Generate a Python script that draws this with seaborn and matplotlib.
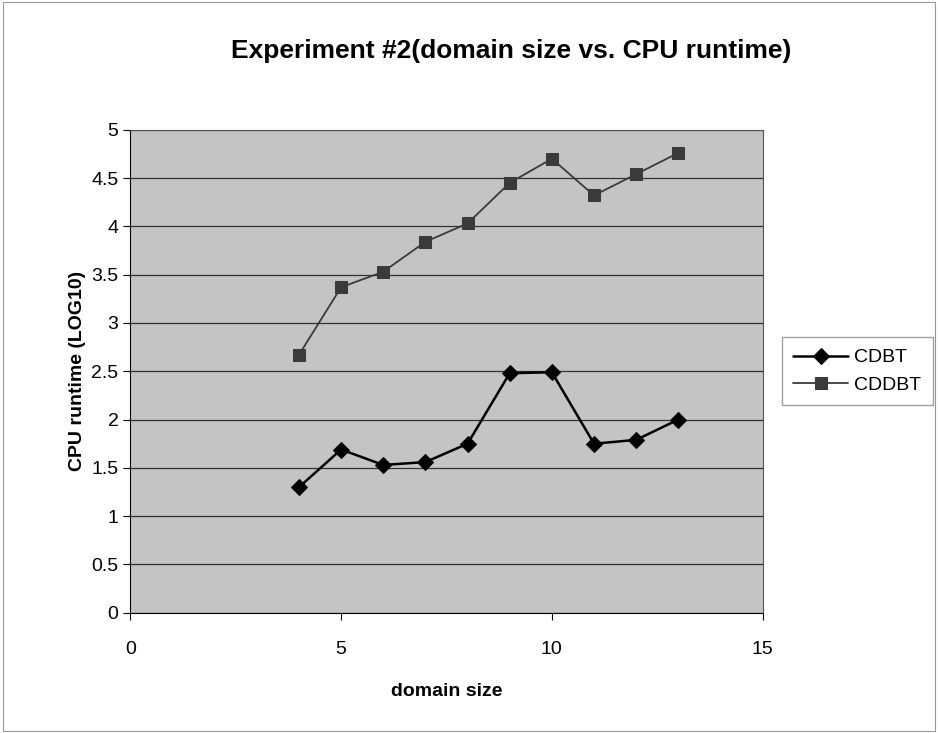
import numpy as np
import pandas as pd
import seaborn as sns
import matplotlib.pyplot as plt

domain_size = [4, 5, 6, 7, 8, 9, 10, 11, 12, 13]
cdbt = [1.30, 1.69, 1.53, 1.56, 1.75, 2.48, 2.49, 1.75, 1.79, 2.00]
cddbt = [2.67, 3.37, 3.53, 3.84, 4.03, 4.45, 4.70, 4.32, 4.54, 4.76]
x_ticks = [0, 5, 10, 15]
y_ticks = [0, 0.5, 1, 1.5, 2, 2.5, 3, 3.5, 4, 4.5, 5]

df = pd.DataFrame({
    "domain size": domain_size * 2,
    "runtime": cdbt + cddbt,
    "series": ["CDBT"] * len(cdbt) + ["CDDBT"] * len(cddbt),
})

sns.set_style("white")
plt.rcParams["font.family"] = ["Liberation Sans", "DejaVu Sans"]
plt.rcParams["text.color"] = "black"
plt.rcParams["axes.labelcolor"] = "black"
plt.rcParams["xtick.color"] = "black"
plt.rcParams["ytick.color"] = "black"

fig = plt.figure(figsize=(9.38, 7.33), dpi=100)
ax = fig.add_axes([0.139, 0.164, 0.674, 0.659])
ax.set_facecolor("#c4c4c4")

sns.lineplot(
    data=df, x="domain size", y="runtime", hue="series", style="series",
    palette={"CDBT": "black", "CDDBT": "#3a3a3a"},
    markers={"CDBT": "D", "CDDBT": "s"}, dashes=False,
    markersize=8, linewidth=1.8, markeredgecolor=None, ax=ax,
)
for line in ax.lines:
    if line.get_color() == "#3a3a3a":
        line.set_linewidth(1.3)

ax.set_xlim(0, 15)
ax.set_ylim(0, 5)
ax.set_xticks(x_ticks)
ax.set_yticks(y_ticks)
ax.set_yticklabels([f"{v:g}" for v in y_ticks])
ax.yaxis.grid(True, color="#333333", linewidth=0.9)
ax.tick_params(axis="both", labelsize=14, length=5, direction="out", left=True, bottom=True)
ax.tick_params(axis="x", pad=15)
for side in ["left", "bottom"]:
    ax.spines[side].set_color("black")
for side in ["top", "right"]:
    ax.spines[side].set_color("#555555")

ax.set_xlabel("domain size", fontsize=14, fontweight="bold", labelpad=18)
ax.set_ylabel("CPU runtime (LOG10)", fontsize=14, fontweight="bold", labelpad=4)
ax.set_title("Experiment #2(domain size vs. CPU runtime)", fontsize=19,
             fontweight="bold", pad=52, x=0.603)

handles, labels = ax.get_legend_handles_labels()
leg = ax.legend(handles, labels, loc="center left", bbox_to_anchor=(1.015, 0.5),
                fontsize=14, frameon=True, fancybox=False, edgecolor="#888888",
                handlelength=2.8, borderpad=0.6, handletextpad=0.3)

border = plt.Rectangle((0.003, 0.003), 0.994, 0.994, transform=fig.transFigure,
                       fill=False, edgecolor="#999999", linewidth=0.8)
fig.patches.append(border)

fig.savefig("out.png", dpi=100)
